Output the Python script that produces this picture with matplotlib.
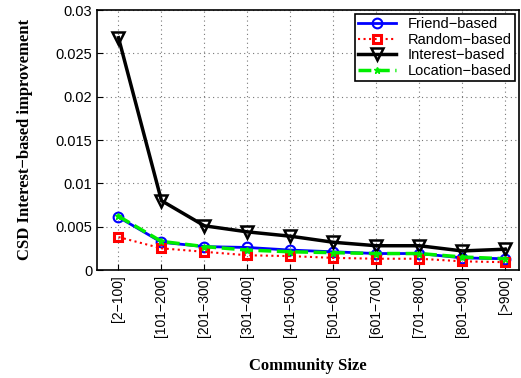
import matplotlib.pyplot as plt

sizes = ['[2\u2212100]', '[101\u2212200]', '[201\u2212300]', '[301\u2212400]', '[401\u2212500]',
         '[501\u2212600]', '[601\u2212700]', '[701\u2212800]', '[801\u2212900]', '[>900]']

friend = [0.0061, 0.0032, 0.0027, 0.0026, 0.0023, 0.0021, 0.0019, 0.0019, 0.0014, 0.0013]
random_ = [0.0038, 0.0025, 0.0021, 0.0017, 0.0016, 0.0014, 0.0013, 0.0013, 0.0010, 0.0009]
interest = [0.0268, 0.0080, 0.0051, 0.0044, 0.0039, 0.0032, 0.0028, 0.0028, 0.0022, 0.0024]
location = [0.0062, 0.0033, 0.0027, 0.0023, 0.0021, 0.0020, 0.0019, 0.0019, 0.0015, 0.0013]

plt.rcParams['font.family'] = ['Liberation Sans', 'DejaVu Sans']

fig = plt.figure(figsize=(5.21, 3.78), dpi=100)
ax = fig.add_axes([97 / 521, 1 - 270 / 378, 422 / 521, 260 / 378])

x = list(range(len(sizes)))
ax.plot(x, friend, '-', color='blue', lw=2, marker='o', ms=7, mfc='none', mew=1.5,
        label='Friend\u2212based')
ax.plot(x, random_, ':', color='red', lw=1.5, marker='s', ms=6, mfc='none', mew=2.2,
        label='Random\u2212based')
ax.plot(x, interest, '-', color='black', lw=2.5, marker='v', ms=8, mfc='none', mew=1.8,
        label='Interest\u2212based')
ax.plot(x, location, '--', color='#00ee00', lw=2.5, marker='*', ms=5, mfc='#00ee00',
        label='Location\u2212based')

ax.set_xlim(-0.5, 9.32)
ax.set_ylim(0, 0.03)
ax.set_yticks([0, 0.005, 0.01, 0.015, 0.02, 0.025, 0.03])
ax.set_yticklabels(['0', '0.005', '0.01', '0.015', '0.02', '0.025', '0.03'])
ax.set_xticks(x)
ax.set_xticklabels(sizes, rotation=90)
ax.tick_params(direction='in', length=4)
ax.tick_params(axis='y', labelsize=10.5)
ax.tick_params(axis='x', labelsize=10)
ax.grid(True, linestyle=(0, (1, 3)), color='#777777', lw=0.8)
for s in ax.spines.values():
    s.set_linewidth(1.2)

# axis titles placed in figure coordinates
fig.text(25 / 521, 1 - 140 / 378, 'CSD Interest\u2212based improvement', rotation=90,
         ha='center', va='center', family='Liberation Serif', fontweight='bold', fontsize=12)
fig.text(308 / 521, 1 - 366 / 378, 'Community Size', ha='center', va='center',
         family='Liberation Serif', fontweight='bold', fontsize=12)

leg = ax.legend(loc='upper right', fontsize=10.5, fancybox=False, framealpha=1,
                edgecolor='black', borderpad=0.2, labelspacing=0.1, handlelength=2.6,
                borderaxespad=0.3)
leg.get_frame().set_linewidth(1.2)

fig.savefig('out.png', dpi=100)
